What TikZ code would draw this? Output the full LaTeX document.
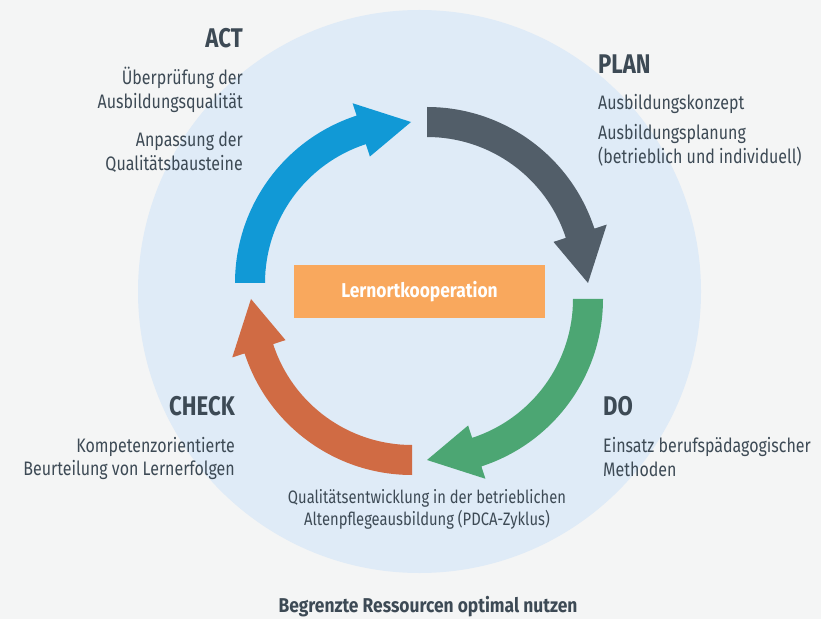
\documentclass[tikz,border=0pt]{standalone}
\usepackage{fontspec}
\setmainfont{Fira Sans}[FakeStretch=0.82]
\newfontfamily\widefont{Fira Sans}[FakeStretch=0.87]
\definecolor{bg}{HTML}{F4F5F5}
\definecolor{circ}{HTML}{DFEBF7}
\definecolor{txt}{HTML}{3D4A55}
\definecolor{ablue}{HTML}{1199D6}
\definecolor{agray}{HTML}{525E69}
\definecolor{agreen}{HTML}{4CA673}
\definecolor{aorange}{HTML}{D06B44}
\definecolor{box}{HTML}{F9A85D}
\tikzset{
  head/.style={font=\fontsize{27}{30}\selectfont\bfseries, text=txt, inner sep=0pt},
  body/.style={font=\fontsize{19.5}{22}\selectfont, text=txt, inner sep=0pt},
  small/.style={font=\fontsize{18}{20}\selectfont, text=txt, inner sep=0pt},
}
\newcommand{\cyclearrow}[4]{% center x, center y, start angle, colour
  \fill[#4] (#1,#2) ++(#3:176) arc[start angle=#3, end angle=#3-72, radius=176]
    -- ($(#1,#2)+(#3-72:189)$) -- ($(#1,#2)+(#3-90:161)$) -- ($(#1,#2)+(#3-72:133)$)
    -- ($(#1,#2)+(#3-72:146)$) arc[start angle=#3-72, end angle=#3, radius=146] -- cycle;}
\usetikzlibrary{calc}
\begin{document}
\begin{tikzpicture}[x=1pt,y=1pt]
\fill[bg] (0,0) rectangle (821,619);
\useasboundingbox (0,0) rectangle (821,619);
\fill[circ] (419.5,327.5) circle[radius=281.5];
\cyclearrow{411}{336}{180}{ablue}
\cyclearrow{427}{336}{90}{agray}
\cyclearrow{427}{320}{0}{agreen}
\cyclearrow{412}{320}{270}{aorange}
\node[fill=box, minimum width=251, minimum height=53, inner sep=0pt,
  font=\widefont\fontsize{20}{22}\selectfont\bfseries, text=white] (lok) at (419.5,327.5) {Lernortkooperation};
% ACT
\node[head, anchor=base east] (act) at (243,571) {ACT};
\node[body, anchor=base east] (act1) at (243,534) {Überprüfung der};
\node[body, anchor=base east] (act2) at (243,510) {Ausbildungsqualität};
\node[body, anchor=base east] (act3) at (243,472) {Anpassung der};
\node[body, anchor=base east] (act4) at (243,448) {Qualitätsbausteine};
% PLAN
\node[head, anchor=base west] (plan) at (598,545) {PLAN};
\node[body, anchor=base west] (plan1) at (598,509) {Ausbildungskonzept};
\node[body, anchor=base west] (plan2) at (598,479) {Ausbildungsplanung};
\node[body, anchor=base west] (plan3) at (598,455) {(betrieblich und individuell)};
% DO
\node[head, anchor=base west] (do) at (603,204) {DO};
\node[body, anchor=base west] (do1) at (603,167) {Einsatz berufspädagogischer};
\node[body, anchor=base west] (do2) at (603,143) {Methoden};
% CHECK
\node[head, anchor=base east] (check) at (235,204) {CHECK};
\node[body, anchor=base east] (check1) at (235,167) {Kompetenzorientierte};
\node[body, anchor=base east] (check2) at (235,144) {Beurteilung von Lernerfolgen};
% bottom
\node[small, anchor=base] (q1) at (427,116) {Qualitätsentwicklung in der betrieblichen};
\node[small, anchor=base] (q2) at (427,94) {Altenpflegeausbildung (PDCA-Zyklus)};
\node[text=txt, inner sep=0pt, font=\widefont\fontsize{20}{22}\selectfont\bfseries, anchor=base] (bt) at (428,7) {Begrenzte Ressourcen optimal nutzen};
\end{tikzpicture}
\end{document}
